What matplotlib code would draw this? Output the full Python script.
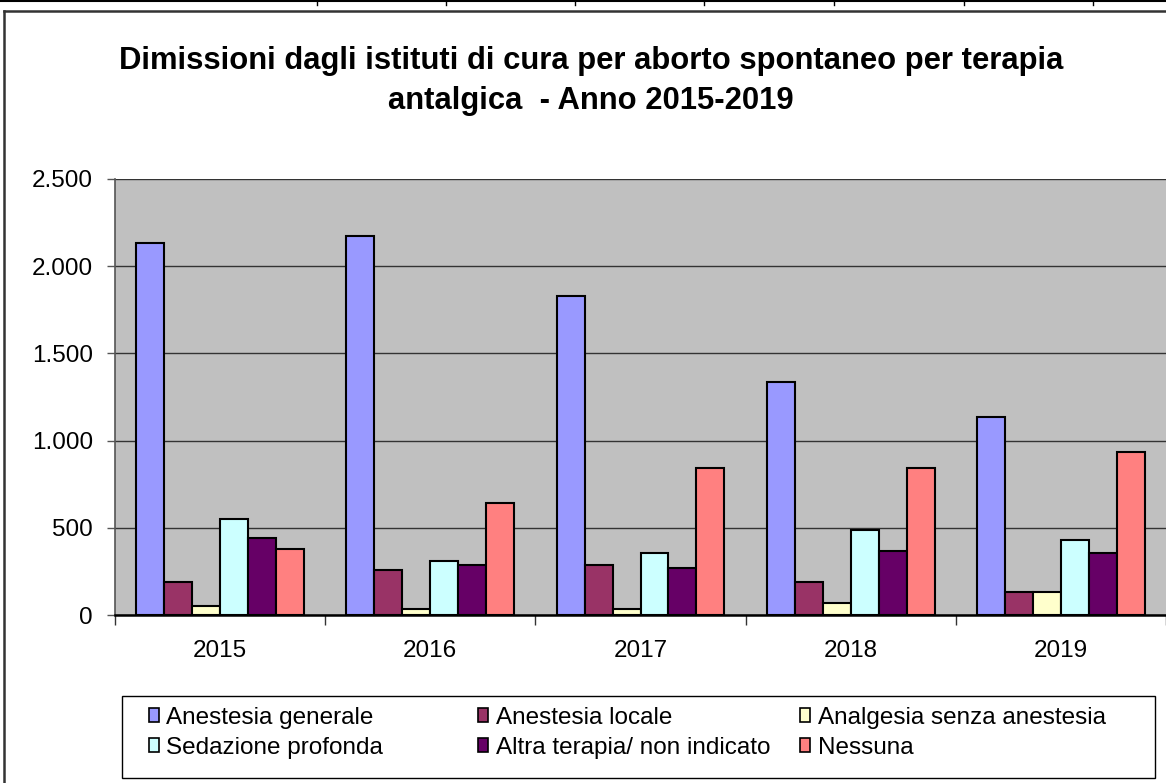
import numpy as np
import matplotlib
matplotlib.use('Agg')
import matplotlib.pyplot as plt
from matplotlib.patches import Patch, Rectangle
from matplotlib.lines import Line2D
from matplotlib.ticker import FuncFormatter, FixedLocator

plt.rcParams['font.family'] = ['Liberation Sans', 'DejaVu Sans']

# Data
years = ['2015', '2016', '2017', '2018', '2019']
series_names = ['Anestesia generale', 'Anestesia locale', 'Analgesia senza anestesia',
                'Sedazione profonda', 'Altra terapia/ non indicato', 'Nessuna']
anestesia_generale = [2132, 2175, 1830, 1337, 1132]
anestesia_locale = [187, 256, 287, 190, 134]
analgesia_senza = [53, 33, 34, 67, 134]
sedazione_profonda = [552, 311, 356, 490, 431]
altra_terapia = [441, 288, 268, 368, 356]
nessuna = [376, 642, 845, 845, 935]
colors = ['#9999FF', '#993366', '#FFFFCC', '#CCFFFF', '#660066', '#FF8080']

values = [anestesia_generale, anestesia_locale, analgesia_senza,
          sedazione_profonda, altra_terapia, nessuna]

W, H = 1166, 783
fig = plt.figure(figsize=(W / 100, H / 100), dpi=100)
fig.patch.set_facecolor('white')

ax = fig.add_axes([115 / W, 1 - 615 / H, 1 - 115 / W, (615 - 178.8) / H])
ax.set_facecolor('#C0C0C0')

x = np.arange(len(years))
bw = 0.133
for i, (name, vals, c) in enumerate(zip(series_names, values, colors)):
    ax.bar(x + (i - 2.5) * bw, vals, width=bw, color=c, edgecolor='black',
           linewidth=1.5, label=name, zorder=3)

ax.set_xlim(-0.5, 4.5)
ax.set_ylim(0, 2500)
ax.set_yticks(np.arange(0, 2501, 500))
ax.yaxis.set_major_formatter(FuncFormatter(lambda v, p: f'{int(v):,}'.replace(',', '.')))
ax.yaxis.grid(True, color='#333333', linewidth=1.0, zorder=1)
ax.set_axisbelow(True)

ax.set_xticks(x)
ax.set_xticklabels(years)
ax.xaxis.set_minor_locator(FixedLocator(np.arange(-0.5, 5.0, 1.0)))
ax.tick_params(axis='x', which='major', length=0, pad=18, labelsize=17.5)
ax.tick_params(axis='x', which='minor', length=7, width=1.0, color='#333333', direction='out')
ax.tick_params(axis='y', length=6, width=1.0, color='#555555', pad=10, labelsize=17.5)

for s in ['top', 'right']:
    ax.spines[s].set_visible(False)
ax.spines['left'].set_color('#555555')
ax.spines['left'].set_linewidth(1.2)
ax.spines['bottom'].set_color('black')
ax.spines['bottom'].set_linewidth(1.8)
ax.spines['bottom'].set_zorder(4)

fig.text(591 / W, 1 - 61 / H,
         'Dimissioni dagli istituti di cura per aborto spontaneo per terapia',
         ha='center', va='center', fontsize=22.3, fontweight='bold')
fig.text(591 / W, 1 - 101 / H, 'antalgica  - Anno 2015-2019',
         ha='center', va='center', fontsize=22.3, fontweight='bold')

# Legend: frame plus three columns
fig.add_artist(Rectangle((122 / W, 1 - 778 / H), (1155 - 122) / W, 82 / H,
                         transform=fig.transFigure, facecolor='white',
                         edgecolor='black', linewidth=1.0))
handles = [Patch(facecolor=c, edgecolor='black', linewidth=1.2) for c in colors]
col_x = [149, 478, 800]
for k in range(3):
    idx = [k, k + 3]
    fig.legend([handles[j] for j in idx], [series_names[j] for j in idx],
               loc='upper left', bbox_to_anchor=(col_x[k] / W, 1 - 707 / H),
               frameon=False, fontsize=17.5, handlelength=0.42, handleheight=0.5,
               handletextpad=0.3, labelspacing=0.32, borderpad=0, borderaxespad=0)

# Outer chart frame and piece of the chart above
fig.add_artist(Line2D([4 / W, 4 / W], [0, 1 - 11 / H], transform=fig.transFigure,
                      color='#333333', linewidth=1.8))
fig.add_artist(Line2D([4 / W, 1], [1 - 11 / H, 1 - 11 / H], transform=fig.transFigure,
                      color='#333333', linewidth=1.8))
fig.add_artist(Line2D([0, 1], [1 - 1 / H, 1 - 1 / H], transform=fig.transFigure,
                      color='black', linewidth=1.5))
for tx in [317, 446, 575, 704, 834, 964, 1093]:
    fig.add_artist(Line2D([tx / W, tx / W], [1 - 1 / H, 1 - 5 / H],
                          transform=fig.transFigure, color='black', linewidth=1.0))

fig.savefig('out.png', dpi=100)
